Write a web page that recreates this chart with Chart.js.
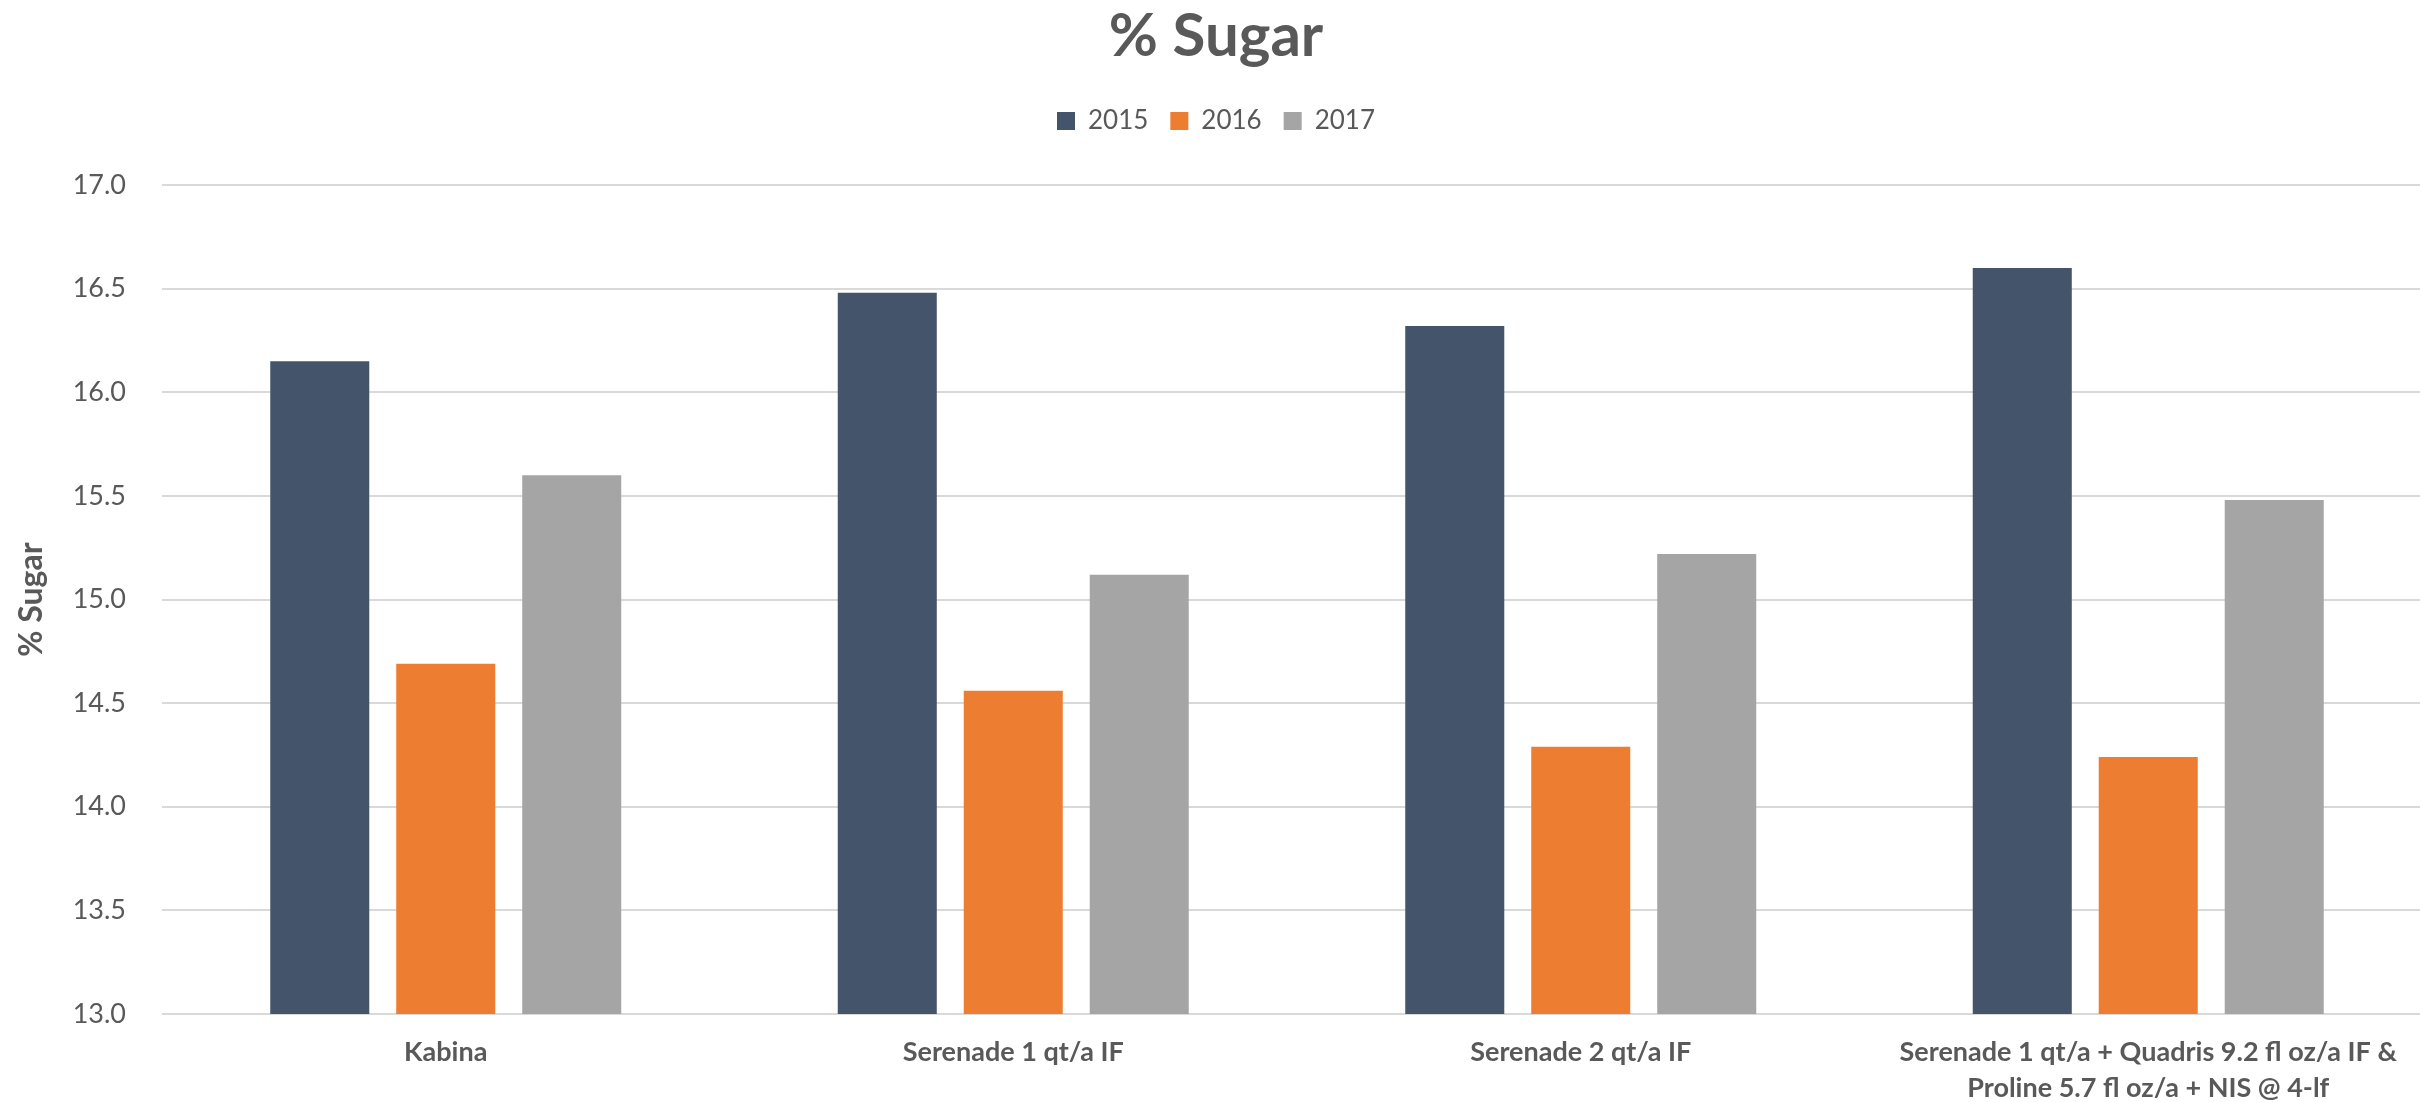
<!DOCTYPE html>
<html>
<head>
<meta charset="utf-8">
<script src="https://cdn.jsdelivr.net/npm/chart.js@4.4.1/dist/chart.umd.min.js"></script>
<style>
  html, body { margin: 0; padding: 0; background: #ffffff; overflow: hidden; }
  #wrap { width: 2420px; height: 1102px; overflow: hidden; }
  canvas { display: block; }
</style>
</head>
<body>
<div id="wrap"><canvas id="c" width="2432" height="1102"></canvas></div>
<script>
const categories = [
  "Kabina",
  "Serenade 1 qt/a IF",
  "Serenade 2 qt/a IF",
  ["Serenade 1 qt/a + Quadris 9.2 fl oz/a IF &", "Proline 5.7 fl oz/a + NIS @ 4-lf"]
];
const seriesNames = ["2015", "2016", "2017"];
const values2015 = [16.15, 16.48, 16.32, 16.60];
const values2016 = [14.69, 14.56, 14.29, 14.24];
const values2017 = [15.60, 15.12, 15.22, 15.48];
const colors = ["#44546A", "#ED7D31", "#A5A5A5"];
const yMin = 13.0, yMax = 17.0, yStep = 0.5;

const textColor = "#595959";
const fontFamily = "Lato, 'Open Sans', sans-serif";

const legendFix = {
  id: 'legendFix',
  beforeInit(chart) {
    const origFit = chart.legend.fit;
    chart.legend.fit = function () {
      origFit.bind(chart.legend)();
      this.height = 99;
    };
  }
};

new Chart(document.getElementById('c'), {
  type: 'bar',
  data: {
    labels: categories,
    datasets: [values2015, values2016, values2017].map((v, i) => ({
      label: seriesNames[i],
      data: v,
      backgroundColor: colors[i],
      borderWidth: 0,
      categoryPercentage: 0.666,
      barPercentage: 0.786
    }))
  },
  options: {
    responsive: false,
    animation: false,
    layout: { padding: { left: 0, right: 0, top: 0, bottom: 0 } },
    plugins: {
      tooltip: { enabled: false },
      title: {
        display: true,
        text: '% Sugar',
        color: textColor,
        font: { family: fontFamily, size: 60, weight: 'bold', lineHeight: 1 },
        padding: { top: 7, bottom: 19 }
      },
      legend: {
        display: true,
        position: 'top',
        labels: {
          color: textColor,
          font: { family: fontFamily, size: 26 },
          boxWidth: 18,
          boxHeight: 18,
          padding: 22
        }
      }
    },
    scales: {
      x: {
        grid: { display: false, drawTicks: false },
        border: { display: false },
        ticks: {
          color: textColor,
          font: { family: fontFamily, size: 27, weight: 'bold', lineHeight: 1.35 },
          padding: 20,
          maxRotation: 0,
          autoSkip: false
        },
        afterFit(scale) { scale.height = 88; }
      },
      y: {
        min: yMin,
        max: yMax,
        grid: { color: '#D9D9D9', lineWidth: 2, drawTicks: false },
        border: { display: false },
        ticks: {
          stepSize: yStep,
          color: textColor,
          font: { family: fontFamily, size: 27 },
          padding: 36,
          callback: v => Number(v).toFixed(1)
        },
        title: {
          display: true,
          text: '% Sugar',
          color: textColor,
          font: { family: fontFamily, size: 32, weight: 'bold', lineHeight: 1.2 },
          padding: { top: 12, bottom: 0 }
        },
        afterFit(scale) { scale.width = 162; }
      }
    }
  },
  plugins: [legendFix]
});
</script>
</body>
</html>
